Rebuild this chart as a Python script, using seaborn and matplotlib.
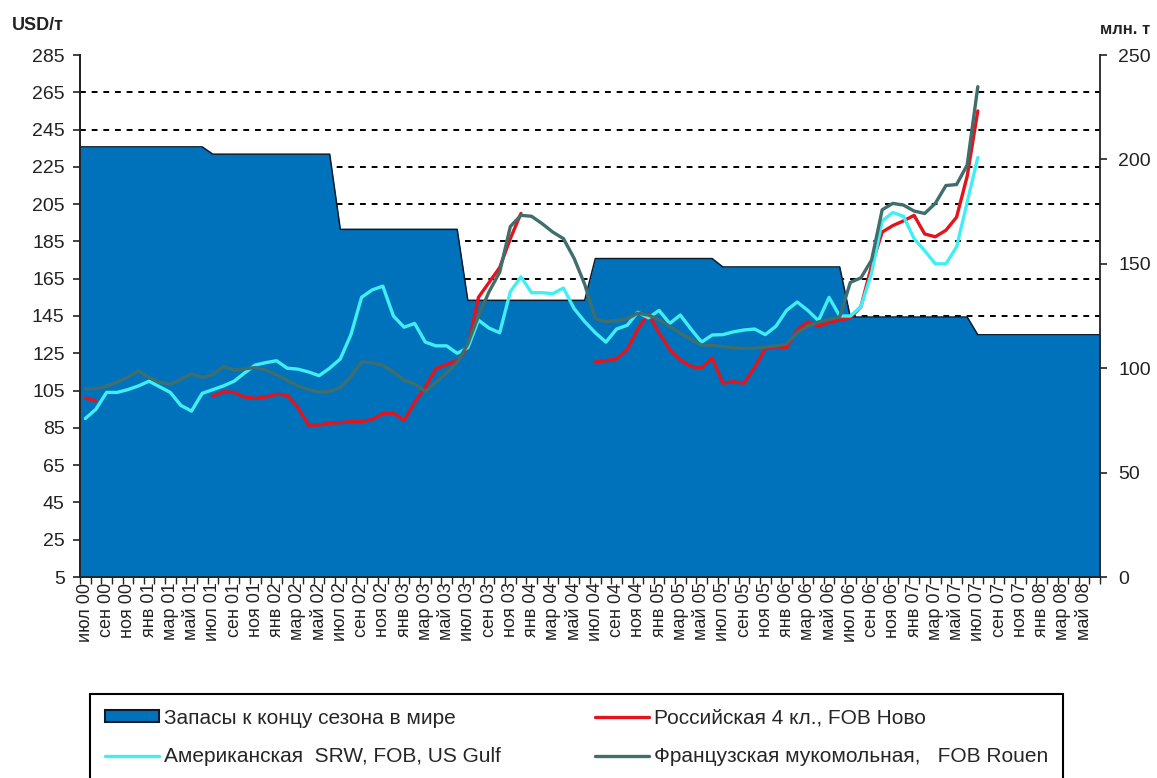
import numpy as np
import pandas as pd
import seaborn as sns
import matplotlib.pyplot as plt
from matplotlib.lines import Line2D
from matplotlib.patches import Patch

# подписи оси X (каждый второй месяц, июл 00 - май 08)
tick_labels = [
    "июл 00", "сен 00", "ноя 00", "янв 01", "мар 01", "май 01",
    "июл 01", "сен 01", "ноя 01", "янв 02", "мар 02", "май 02",
    "июл 02", "сен 02", "ноя 02", "янв 03", "мар 03", "май 03",
    "июл 03", "сен 03", "ноя 03", "янв 04", "мар 04", "май 04",
    "июл 04", "сен 04", "ноя 04", "янв 05", "мар 05", "май 05",
    "июл 05", "сен 05", "ноя 05", "янв 06", "мар 06", "май 06",
    "июл 06", "сен 06", "ноя 06", "янв 07", "мар 07", "май 07",
    "июл 07", "сен 07", "ноя 07", "янв 08", "мар 08", "май 08",
]

# запасы к концу сезона, млн т (сезоны июль-июнь, 2000/01 ... 2007/08)
season_stocks = [206, 202.5, 166.5, 132.5, 152.5, 148.5, 124.5, 116]

# цены, USD/т, помесячно с июля 2000
russian = [
    101, 99.5, None, None, None, None, None, None, None, None, None, None,
    102, 104.4, 104, 101.5, 100.8, 101.5, 103, 102.5, 96, 86.5, 86.5, 87.5,
    87.8, 88.3, 88.3, 89.5, 92.6, 93, 89, 98.6, 107, 116.7, 119, 121,
    128, 155, 163, 171, 186.5, 200, None, None, None, None, None, None,
    120.4, 121, 122, 127, 138, 146, 136, 127, 121.4, 118, 117, 122.5,
    109, 109.7, 109, 117.5, 127.5, 128.5, 128, 137.5, 141.8, 139.5, 141.5, 142.8,
    144, 150, 172, 190, 193.5, 196, 199, 189, 187.5, 191, 198, 220,
    255,
]
american = [
    90, 95, 104, 104, 105.5, 107.5, 110, 107, 104, 97, 94, 103.5,
    105.5, 107.5, 110, 114.5, 118.7, 120, 121, 117, 116.5, 115, 113, 117,
    122, 135, 155, 159, 161, 145, 139, 141, 131, 129, 129, 125,
    128, 142.8, 138.5, 136, 158, 166, 157.5, 157.5, 157, 160, 149, 142,
    136, 131, 138, 140, 147, 144, 148, 141, 145.5, 138, 131, 134.8,
    135, 136.5, 137.5, 138, 135, 139.5, 148, 152.5, 148, 142.5, 155, 145,
    145, 150, 168, 196, 200.5, 198.5, 186.5, 180, 173, 173, 182, 206,
    230,
]
french = [
    106, 106, 107.5, 109.5, 112.3, 115.5, 112, 109.5, 108.3, 111, 114, 112,
    113.5, 118, 116, 116.7, 117.3, 116, 113.5, 110.5, 107.5, 105.5, 104.2, 104.5,
    106.5, 112.5, 120.4, 120, 118.5, 115, 110.5, 108.5, 104.5, 109.5, 114.5, 120,
    130, 145, 158, 168.5, 193, 199, 198.5, 194.5, 190, 186.5, 176, 162,
    143.5, 142, 142.5, 143.5, 146.5, 145.5, 143, 139.5, 135.7, 132.5, 129.4, 129.2,
    128.6, 128, 127.6, 127.7, 128.4, 129, 130, 136, 139.5, 141.8, 143.2, 144.5,
    163, 165.5, 175, 202, 205.4, 204.5, 201.3, 200, 205.4, 215, 215.5, 226,
    268,
]

stock_name = "Запасы к концу сезона в мире"
series_names = [
    "Российская 4 кл., FOB Ново",
    "Американская  SRW, FOB, US Gulf",
    "Французская мукомольная,   FOB Rouen",
]
palette = {
    series_names[0]: "#E3141C",
    series_names[1]: "#3FEFF5",
    series_names[2]: "#3F6E6C",
}
area_color = "#0072BB"

sns.set_style("ticks")
plt.rcParams['font.family'] = ['Liberation Sans', 'DejaVu Sans']

n_months = len(tick_labels) * 2
months = np.arange(n_months)
stocks = np.repeat(season_stocks, 12)

frames = []
for name, values in zip(series_names, [russian, american, french]):
    s = pd.Series(values, dtype=float)
    seg = s.isna().cumsum().astype(str)
    df = pd.DataFrame({
        'month': np.arange(len(s)),
        'price': s,
        'series': name,
        'seg': name + seg,
    })
    frames.append(df.dropna())
prices = pd.concat(frames, ignore_index=True)

fig = plt.figure(figsize=(11.57, 7.78), dpi=100)
ax = fig.add_axes([80 / 1157, 1 - 577 / 778, 1020 / 1157, 522 / 778])
ax2 = ax.twinx()
ax3 = ax.twinx()

# левая ось: USD/т, пунктирная сетка под областью
ax.set_ylim(5, 285)
ax.set_yticks(np.arange(5, 286, 20))
ax.yaxis.grid(True, linestyle=(0, (3, 3)), color='black', linewidth=1.4)
ax.get_ygridlines()[-1].set_visible(False)
ax.xaxis.grid(False)

# правая ось: запасы, млн т
x_area = np.r_[-0.5, months, n_months - 0.5]
y_area = np.r_[stocks[0], stocks, stocks[-1]]
ax2.fill_between(x_area, 0, y_area, color=area_color, linewidth=0)
ax2.plot(x_area, y_area, color='#0A1A2A', linewidth=1.1)
ax2.set_ylim(0, 250)
ax2.set_yticks(np.arange(0, 251, 50))

# цены поверх области
sns.lineplot(
    data=prices, x='month', y='price', hue='series', units='seg',
    estimator=None, palette=palette, hue_order=series_names,
    linewidth=2.4, legend=False, ax=ax3,
)
ax3.set_ylim(5, 285)
ax3.yaxis.set_visible(False)
ax3.set_xlabel('')
ax3.set_ylabel('')
for sp in ax3.spines.values():
    sp.set_visible(False)

ax.set_xlim(-0.5, n_months - 0.5)
ax.set_xticks(np.arange(-0.5, n_months, 1))
ax.set_xticklabels([])
ax.set_xticks(np.arange(0, n_months, 2), minor=True)
ax.set_xticklabels(tick_labels, minor=True, rotation=90)
ax.tick_params(axis='x', which='major', length=5, width=1, direction='out', color='#222222')
ax.tick_params(axis='x', which='minor', length=0, labelsize=13, pad=4, labelcolor='#222222')
ax.tick_params(axis='y', length=5, width=1.2, direction='out', labelsize=14, pad=6,
               color='#222222', labelcolor='#222222')
ax2.tick_params(axis='y', length=5, width=1.2, direction='out', labelsize=14, pad=8,
                color='#222222', labelcolor='#222222')

for a in (ax, ax2):
    a.spines['top'].set_visible(False)
    for side in ('left', 'right', 'bottom'):
        a.spines[side].set_color('#222222')
        a.spines[side].set_linewidth(1.3)
ax.spines['right'].set_visible(False)

fig.text(12 / 1157, 1 - 26 / 778, "USD/т", fontsize=13, fontweight='bold',
         ha='left', va='center', color='#222222')
fig.text(1150 / 1157, 1 - 30 / 778, "млн. т", fontsize=12, fontweight='bold',
         ha='right', va='center', color='#222222')

handles = [
    Patch(facecolor=area_color, edgecolor='#0A1A2A', linewidth=1.5),
    Line2D([], [], color=palette[series_names[1]], linewidth=2.4),
    Line2D([], [], color=palette[series_names[0]], linewidth=2.4),
    Line2D([], [], color=palette[series_names[2]], linewidth=2.4),
]
labels = [stock_name, series_names[1], series_names[0], series_names[2]]
leg = fig.legend(
    handles, labels, loc='upper left', ncol=2, mode='expand',
    bbox_to_anchor=(90 / 1157, 1 - 694 / 778, 973 / 1157, 0.0),
    frameon=True, fancybox=False, edgecolor='black', fontsize=15,
    handlelength=2.6, handletextpad=0.25, labelspacing=0.95,
    borderpad=0.7, handleheight=0.5, borderaxespad=0,
)
leg.get_frame().set_linewidth(1.5)
leg.get_frame().set_alpha(1)

fig.savefig("out.png", dpi=100)
